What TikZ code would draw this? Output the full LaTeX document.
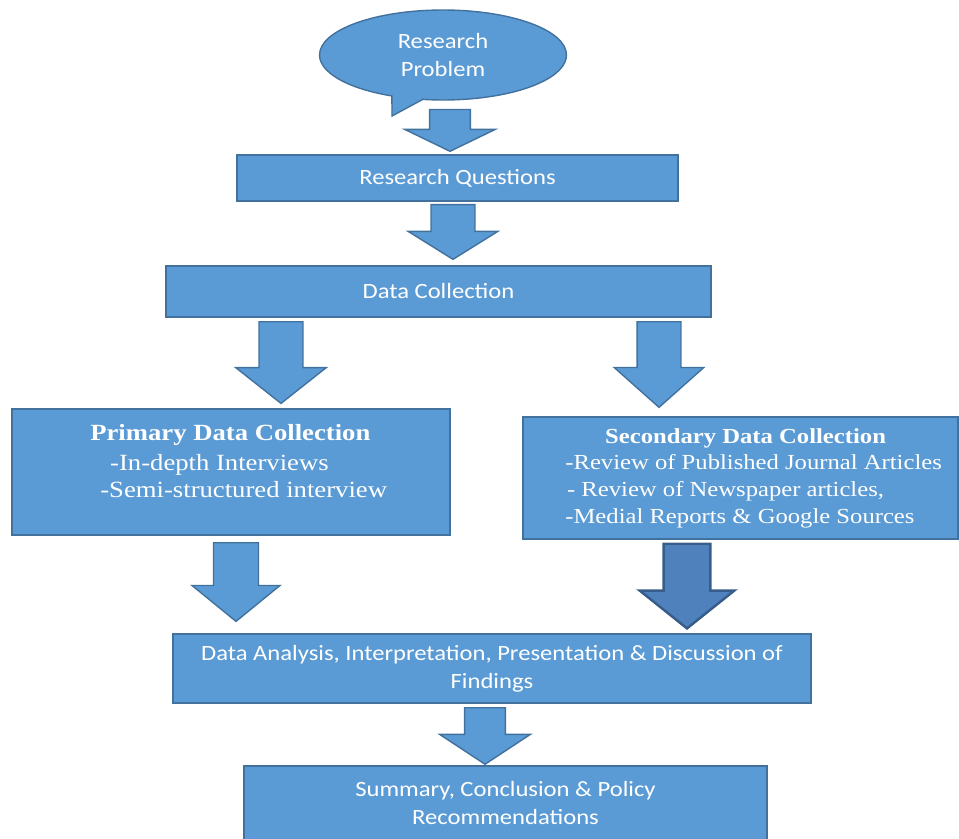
\documentclass[tikz,border=0pt]{standalone}
\usepackage{fontspec}
\setmainfont[FakeStretch=1.13]{Carlito}
\newfontfamily\tnr[FakeStretch=1.15]{Liberation Serif}
\usetikzlibrary{calc,shapes,shapes.callouts,positioning}
\definecolor{boxblue}{HTML}{5B9BD5}
\definecolor{boxline}{HTML}{41719C}
\definecolor{darkblue}{HTML}{4F81BD}
\definecolor{darkline}{HTML}{385D8A}
\tikzstyle{box}=[rectangle,draw=boxline,fill=boxblue,line width=0.8pt,inner sep=0pt,
text=white,align=center]
\tikzstyle{bubble}=[ellipse callout,draw=boxline,fill=boxblue,line width=0.8pt,inner sep=0pt,
text=white,align=center]
\tikzstyle{listing}=[anchor=north west,align=left,inner sep=0pt,text=white]
\tikzstyle{barrow}=[draw=boxline,fill=boxblue,line width=0.8pt]
\tikzset{sw/.store in=\sw, hw/.store in=\hw, hl/.store in=\hl,
  gt/.store in=\gt, gb/.store in=\gb,
  sw=11pt, hw=25pt, hl=15pt, gt=2pt, gb=2pt}
\newcommand{\blockdown}[4][]{%
  \draw[barrow,#1] let \p1=(#2 |- #3.south), \p2=(#2 |- #4.north) in
    (\x1-\sw,\y1-\gt) -- (\x1+\sw,\y1-\gt) -- (\x1+\sw,\y2+\gb+\hl)
    -- (\x1+\hw,\y2+\gb+\hl) -- (\x1,\y2+\gb) -- (\x1-\hw,\y2+\gb+\hl)
    -- (\x1-\sw,\y2+\gb+\hl) -- cycle;}

\begin{document}
\begin{tikzpicture}[x=0.02cm, y=-0.02cm, font=\fontsize{12.4}{16}\selectfont]
    \useasboundingbox (0,0) rectangle (959,838);

    \node[bubble, minimum width=4.94cm, minimum height=1.8cm,
      callout absolute pointer={(392,116)}] (rp) at (443,55) {Research\\Problem};
    \node[box, minimum width=8.82cm, minimum height=0.92cm] (rq) at (457.5,178) {Research Questions};
    \node[box, minimum width=10.9cm, minimum height=1.02cm] (dc) at (438.5,291.5) {Data Collection};

    \node[box, minimum width=8.76cm, minimum height=2.52cm] (pdc) at (231,472) {};
    \node[listing, font=\tnr\fontsize{13.2}{15.3}\selectfont] (pdct) at (90,424)
      {\textbf{Primary Data Collection}\\[2pt]
       \hspace*{11.3pt}-In-depth Interviews\\
       \hspace*{5.7pt}-Semi-structured interview};

    \node[box, minimum width=8.7cm, minimum height=2.44cm] (sdc) at (740.5,478) {};
    \node[listing, font=\tnr\fontsize{12.2}{15.2}\selectfont] (sdct) at (565,428)
      {\hspace*{22.7pt}\textbf{Secondary Data Collection}\\
       -Review of Published Journal Articles\\
       \hspace*{1pt}- Review of Newspaper articles,\\
       -Medial Reports \& Google Sources};

    \node[box, minimum width=12.76cm, minimum height=1.38cm] (da) at (492,668.5)
      {Data Analysis, Interpretation, Presentation \& Discussion of\\Findings};
    \node[box, minimum width=10.46cm, minimum height=1.48cm] (scp) at (505.5,803)
      {Summary, Conclusion \& Policy\\Recommendations};

    \blockdown[sw=11.6pt,hw=25.8pt,hl=12.5pt,gt=5pt,gb=1.7pt]{450,0}{rp}{rq}
    \blockdown[sw=12.5pt,hw=25.5pt,hl=15.9pt,gt=1.7pt,gb=3.4pt]{453,0}{rq}{dc}
    \blockdown[sw=12.5pt,hw=25.8pt,hl=20.4pt,gt=2.3pt,gb=2.8pt]{281,0}{dc}{pdc}
    \blockdown[sw=12.5pt,hw=25.5pt,hl=22.7pt,gt=2.3pt,gb=5.1pt]{659,0}{dc}{sdc}
    \blockdown[sw=12.8pt,hw=25pt,hl=20.4pt,gt=4pt,gb=6.8pt]{236,0}{pdc}{da}
    \blockdown[sw=13.3pt,hw=26.9pt,hl=21.5pt,gt=2.3pt,gb=2.8pt,
      fill=darkblue,draw=darkline,line width=1.4pt]{687,0}{sdc}{da}
    \blockdown[sw=11.6pt,hw=25.8pt,hl=17pt,gt=2.3pt,gb=0.6pt]{485,0}{da}{scp}
\end{tikzpicture}
\end{document}
